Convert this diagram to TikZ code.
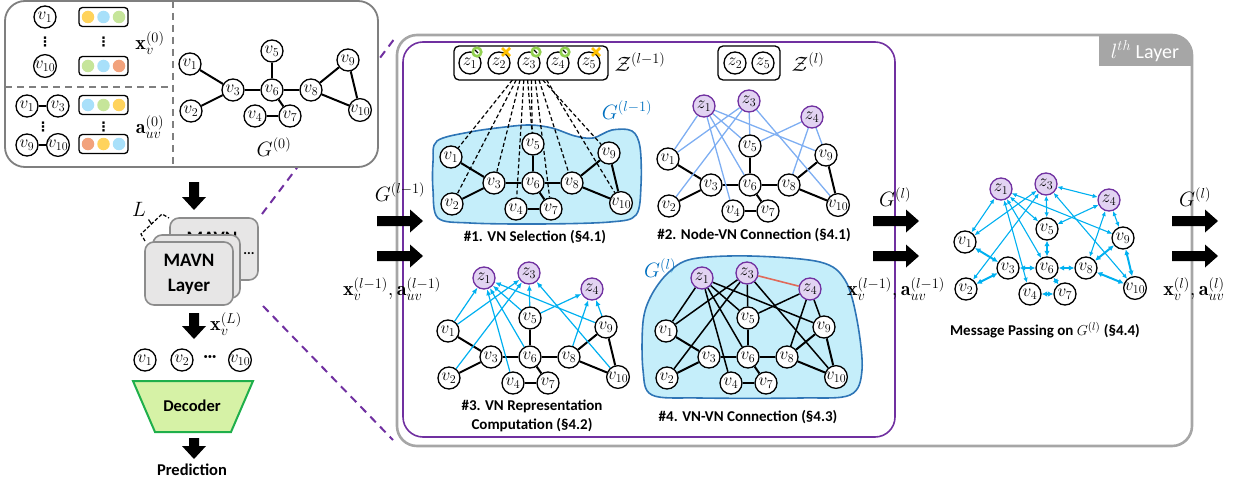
\documentclass[tikz,border=0pt]{standalone}
\usepackage{fontspec}
\setsansfont{Carlito}
\newfontfamily\symbolfont{DejaVu Sans}
\usetikzlibrary{calc,arrows.meta}
\pgfdeclarelayer{back}
\pgfdeclarelayer{edges}
\pgfsetlayers{back,edges,main}

\definecolor{vpurple}{HTML}{7030A0}
\definecolor{zfill}{HTML}{E2D3F2}
\definecolor{blobfill}{HTML}{C5EEFA}
\definecolor{blobline}{HTML}{2E75B6}
\definecolor{gblue}{HTML}{0070C0}
\definecolor{linkblue}{HTML}{7EAEF2}
\definecolor{arrowcyan}{HTML}{00B0F0}
\definecolor{framegray}{HTML}{A6A6A6}
\definecolor{boxgray}{HTML}{7F7F7F}
\definecolor{layerfill}{HTML}{E7E6E6}
\definecolor{layerline}{HTML}{8C8C8C}
\definecolor{decfill}{HTML}{D6F2A6}
\definecolor{decline}{HTML}{1FAF4B}
\definecolor{dotyellow}{HTML}{FFD35C}
\definecolor{dotblue}{HTML}{A8E0FA}
\definecolor{dotgreen}{HTML}{C6E59A}
\definecolor{dotorange}{HTML}{F2A27C}
\definecolor{vvred}{HTML}{E06A5A}
\definecolor{keepgreen}{HTML}{92D050}
\definecolor{dropgold}{HTML}{FFC000}

\tikzset{
  vn/.style={circle, draw, line width=1.3pt, fill=white, minimum size=22pt,
    inner sep=0pt, font=\fontsize{17}{18}\selectfont},
  zn/.style={vn, draw=vpurple, fill=zfill},
  gedge/.style={line width=2pt},
  vnedge/.style={line width=1.5pt},
  vnlink/.style={line width=1.3pt, draw=linkblue},
  selline/.style={line width=1.2pt, dash pattern=on 4pt off 2.5pt},
  toz/.style={line width=1.2pt, draw=arrowcyan, -{Latex[length=6pt,width=5pt]}},
  mpthin/.style={line width=1.1pt, draw=arrowcyan,
    {Latex[length=5pt,width=4.5pt]}-{Latex[length=5pt,width=4.5pt]}},
  mpthick/.style={line width=2pt, draw=arrowcyan,
    {Latex[length=5.5pt,width=5.5pt]}-{Latex[length=5.5pt,width=5.5pt]}},
  caption/.style={font=\sffamily\bfseries\fontsize{15}{19}\selectfont, align=center},
  mlabel/.style={font=\fontsize{20}{23}\selectfont, inner sep=0pt},
  vdotsl/.style={font=\symbolfont\bfseries\fontsize{13}{14}\selectfont, inner sep=0pt},
  blob/.style={fill=blobfill, draw=blobline, line width=1.6pt},
  featbox/.style={draw, line width=1.3pt, rounded corners=3.5pt, minimum width=49pt,
    minimum height=19pt, inner sep=0pt},
  fdot/.style={circle, inner sep=0pt, minimum size=12.5pt},
  zbox/.style={draw, line width=1.3pt, rounded corners=5pt, inner sep=0pt, fill=white},
  mavn/.style={draw=layerline, fill=layerfill, line width=1.6pt, rounded corners=9pt},
  pics/rarrow/.style={code={\fill (0,-5) -- (33,-5) -- (33,-11.5) -- (46,0)
      -- (33,11.5) -- (33,5) -- (0,5) -- cycle;}},
  pics/darrow/.style={code={\fill (-5,0) -- (5,0) -- (5,#1-13) -- (12,#1-13)
      -- (0,#1) -- (-12,#1-13) -- (-5,#1-13) -- cycle;}},
  pics/keepmark/.style={code={\draw[keepgreen, line width=2.6pt, fill=white] (0,0) circle (4.3);
      \draw[line width=1.3pt] (-1.8,-1.8) -- (1,1);}},
  pics/dropmark/.style={code={\draw[dropgold, line width=2.8pt] (-4,-4) -- (4,4) (-4,4) -- (4,-4);}},
}

% nodes v1..v10 of the graph, placed around the position of v6
\newcommand\vgraph[3]{%
  \foreach \k/\dx/\dy in {1/-82/-26,2/-81/21,3/-39/0,4/-17/26,5/0/-39,6/0/0,7/18/26,8/39/0,9/76/-30,10/88/20}
    {\node[vn] (#1v\k) at (#2+\dx,#3+\dy) {$v_{\k}$};}}
% virtual nodes z1, z3, z4
\newcommand\zgraph[3]{%
  \foreach \k/\dx/\dy in {1/-46/-79,3/-1/-84,4/62/-68}
    {\node[zn] (#1z\k) at (#2+\dx,#3+\dy) {$z_{\k}$};}}
\newcommand\gedges[2]{%
  \foreach \a/\b in {1/3,2/3,3/6,5/6,6/7,4/7,6/8,8/9,8/10,9/10}
    {\draw[#2] (#1v\a) -- (#1v\b);}}
\newcommand\zedges[2]{%
  \foreach \z/\v in {1/1,1/4,1/5,1/6,1/9,3/1,3/2,3/5,3/10,4/5,4/8,4/9}
    {\draw[#2] (#1v\v) -- (#1z\z);}}

\begin{document}
\begin{tikzpicture}[x=1pt,y=-1pt]
\useasboundingbox (0,0) rectangle (1237,487);

% ---------- zoom lines, input box and graph regions (bottom layer)
\begin{pgfonlayer}{back}
  \coordinate (zoomA1) at (262,214);
  \coordinate (zoomA2) at (395,38);
  \coordinate (zoomB1) at (263,306);
  \coordinate (zoomB2) at (393,440);
  \draw[vpurple, line width=2pt, dash pattern=on 8pt off 6pt] (zoomA1) -- (zoomA2);
  \draw[vpurple, line width=2pt, dash pattern=on 8pt off 6pt] (zoomB1) -- (zoomB2);
  \draw[boxgray, line width=1.8pt, fill=white, rounded corners=20pt] (5,1) rectangle (378,167);
  \draw[boxgray, line width=1.8pt, dash pattern=on 7pt off 5pt] (173,1) -- (173,167);
  \draw[boxgray, line width=1.8pt, dash pattern=on 7pt off 5pt] (5,87) -- (173,87);
  \path[blob] plot[smooth cycle, tension=0.55] coordinates {(437,141) (470,132) (505,127)
    (530,125) (552,128) (575,136) (593,138) (612,130) (632,131) (640,147) (641,185)
    (636,215) (610,222) (540,224) (470,223) (438,218) (433,190) (433,162)};
  \path[blob] plot[smooth cycle, tension=0.55] coordinates {(643,322) (651,296) (668,273)
    (692,259) (750,256) (820,262) (845,280) (857,320) (862,370) (850,395) (800,398)
    (700,398) (652,395) (643,370)};
\end{pgfonlayer}

% ---------- input features and edge attributes
\node[vn] (tv1) at (45,17) {$v_1$};
\node[vn] (tv10) at (45,66) {$v_{10}$};
\node[vdotsl] at (45,42) {⋮};
\node[vn] (tu1) at (27,106) {$v_1$};
\node[vn] (tu3) at (58,106) {$v_3$};
\node[vdotsl] at (43,127) {⋮};
\node[vn] (tu9) at (27,145) {$v_9$};
\node[vn] (tu10) at (58,145) {$v_{10}$};
\foreach \n/\y/\ca/\cb/\cc in {1/17/dotyellow/dotblue/dotgreen, 2/66/dotgreen/dotblue/dotorange,
    3/105/dotblue/dotgreen/dotyellow, 4/144/dotorange/dotyellow/dotblue} {
  \node[featbox] (fb\n) at (103.5,\y) {};
  \node[fdot, fill=\ca] at (88,\y) {};
  \node[fdot, fill=\cb] at (103.5,\y) {};
  \node[fdot, fill=\cc] at (119,\y) {};
}
\node[vdotsl] at (103.5,42) {⋮};
\node[vdotsl] at (103.5,127) {⋮};
\node[mlabel] at (150,43) {$\mathbf{x}_v^{(0)}$};
\node[mlabel] at (150,127) {$\mathbf{a}_{uv}^{(0)}$};

% ---------- input graph G^(0)
\vgraph{g}{272}{90}
\node[mlabel] at (274,147) {$G^{(0)}$};

% ---------- left column: stacked layers, decoder, prediction
\pic at (194,182) {darrow=28};
\draw[mavn] (170,218) rectangle (258,280);
\node[font=\sffamily\bfseries\fontsize{19}{24}\selectfont, inner sep=0pt] at (212,238) {MAVN};
\draw[mavn] (153,235) rectangle (240,298);
\node[font=\sffamily\bfseries\fontsize{14}{16}\selectfont, inner sep=0pt] at (249,254) {...};
\draw[mavn] (145,242) rectangle (233,305);
\node[font=\sffamily\bfseries\fontsize{19}{25}\selectfont, align=center] (layerbox) at (189,274) {MAVN\\Layer};
\draw[line width=1.2pt, dash pattern=on 3.5pt off 2pt] (145,241) -- (141,234) -- (162,214) -- (169,218);
\draw[line width=1.2pt] (151.5,224) -- (148.5,219.5);
\node[mlabel] at (139,209) {$L$};
\pic at (194,313) {darrow=26};
\node[mlabel] at (226,324) {$\mathbf{x}_v^{(L)}$};
\node[vn] (ov1) at (145,360) {$v_1$};
\node[vn] (ov2) at (182,360) {$v_2$};
\node[font=\sffamily\bfseries\fontsize{16}{18}\selectfont] at (210,359) {···};
\node[vn] (ov10) at (240,360) {$v_{10}$};
\draw[decline, fill=decfill, line width=2pt] (133,381) -- (253,381) -- (231,432) -- (155,432) -- cycle;
\node[font=\sffamily\bfseries\fontsize{16.5}{20}\selectfont] (decoder) at (192,406) {Decoder};
\pic at (194,438) {darrow=21};
\node[font=\sffamily\bfseries\fontsize{16.5}{20}\selectfont] (pred) at (192,470) {Prediction};

% ---------- l-th layer frame
\fill[framegray] (1099,35) -- (1172,35) arc[start angle=-90, end angle=0, radius=20] -- (1192,66) -- (1099,66) -- cycle;
\draw[framegray, line width=2.6pt, rounded corners=20pt] (397,35) rectangle (1192,446);
\node[text=white, font=\sffamily\fontsize{20}{23}\selectfont] at (1145,51) {$l^{th}$ Layer};
\draw[vpurple, line width=1.6pt, rounded corners=20pt] (403,42) rectangle (895,437);

% ---------- #1 VN selection
\node[zbox, minimum width=154pt, minimum height=34pt] (zsel) at (531,63) {};
\foreach \k/\x in {1/470,2/499,3/529,4/558,5/589}
  {\node[vn] (s\k) at (\x,63) {$z_{\k}$};}
\foreach \k in {1,3,4} {\pic at ($(s\k)+(7,-11)$) {keepmark};}
\foreach \k in {2,5} {\pic at ($(s\k)+(7,-11)$) {dropmark};}
\node[mlabel] at (640,62) {$\mathcal{Z}^{(l-1)}$};
\vgraph{a}{533}{183}
\node[mlabel, text=gblue] at (627,110) {$G^{(l-1)}$};
\node[caption] at (535,237) {\#1. VN Selection (§4.1)};

% ---------- #2 node-VN connection
\node[zbox, minimum width=62pt, minimum height=34pt] (zkeep) at (749,63) {};
\node[vn] (k2) at (735,63) {$z_2$};
\node[vn] (k5) at (763,63) {$z_5$};
\node[mlabel] at (808,62) {$\mathcal{Z}^{(l)}$};
\vgraph{b}{750}{185}
\zgraph{b}{750}{185}
\node[caption] at (754,235) {\#2. Node-VN Connection (§4.1)};

% ---------- #3 VN representation computation
\vgraph{c}{530}{357}
\zgraph{c}{530}{357}
\node[caption] at (532,416) {\#3. VN Representation\\Computation (§4.2)};

% ---------- #4 VN-VN connection
\vgraph{d}{748}{357}
\zgraph{d}{748}{357}
\node[mlabel, text=gblue] at (660,268) {$G^{(l)}$};
\node[caption] at (748,417) {\#4. VN-VN Connection (§4.3)};

% ---------- message passing
\vgraph{e}{1047}{268}
\zgraph{e}{1047}{268}
\node[caption] at (1045,330) {Message Passing on $G^{(l)}$ (§4.4)};

% ---------- connectors
\begin{pgfonlayer}{edges}
  \draw[gedge] (tu1) -- (tu3);
  \draw[gedge] (tu9) -- (tu10);
  \gedges{g}{gedge}
  \foreach \k in {1,...,10} {
    \coordinate (sel\k) at (508.6+3.8*\k,80);
    \draw[selline] (sel\k) -- (av\k);
  }
  \gedges{a}{gedge}
  \gedges{b}{gedge}
  \zedges{b}{vnlink}
  \gedges{c}{gedge}
  \zedges{c}{toz}
  \gedges{d}{gedge}
  \zedges{d}{vnedge}
  \draw[vvred, line width=1.6pt] (dz3) -- (dz4);
  \gedges{e}{mpthick}
  \zedges{e}{mpthin}
  \draw[mpthin] (ez3) -- (ez4);
\end{pgfonlayer}

% ---------- flows between stages
\pic at (377,221) {rarrow};
\pic at (377,256) {rarrow};
\node[mlabel] at (400,192) {$G^{(l-1)}$};
\node[mlabel] at (392,289) {$\mathbf{x}_v^{(l-1)},\mathbf{a}_{uv}^{(l-1)}$};
\pic at (873,221) {rarrow};
\pic at (873,256) {rarrow};
\node[mlabel] at (895,197) {$G^{(l)}$};
\node[mlabel] at (896,289) {$\mathbf{x}_v^{(l-1)},\mathbf{a}_{uv}^{(l-1)}$};
\pic at (1172,221) {rarrow};
\pic at (1172,256) {rarrow};
\node[mlabel] at (1195,197) {$G^{(l)}$};
\node[mlabel] at (1194,289) {$\mathbf{x}_v^{(l)},\mathbf{a}_{uv}^{(l)}$};
\end{tikzpicture}
\end{document}
